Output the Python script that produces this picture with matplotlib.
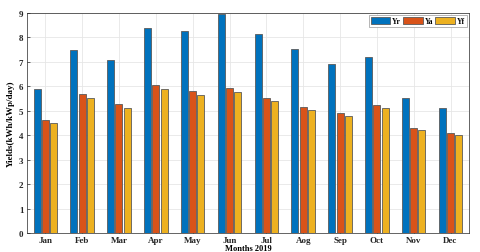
import matplotlib
matplotlib.use("Agg")
import matplotlib.pyplot as plt
import numpy as np

months = ["Jan", "Feb", "Mar", "Apr", "May", "Jun", "Jul", "Aog", "Sep", "Oct", "Nov", "Dec"]
Yr = [5.90, 7.48, 7.09, 8.37, 8.27, 8.97, 8.15, 7.53, 6.93, 7.20, 5.54, 5.12]
Ya = [4.63, 5.67, 5.27, 6.04, 5.80, 5.92, 5.51, 5.16, 4.90, 5.24, 4.30, 4.08]
Yf = [4.51, 5.52, 5.13, 5.90, 5.65, 5.78, 5.38, 5.03, 4.78, 5.11, 4.20, 4.00]
series_names = ["Yr", "Ya", "Yf"]
colors = ["#0072BD", "#D95319", "#EDB120"]

plt.rcParams['font.family'] = ['Liberation Serif', 'DejaVu Serif']

fig = plt.figure(figsize=(4.8, 2.53), dpi=100)
ax = fig.add_axes([0.056, 0.075, 0.921, 0.870])

x = np.arange(1, len(months) + 1)
offsets = [-0.225, 0.0, 0.225]
w = 0.19
for vals, name, c, off in zip([Yr, Ya, Yf], series_names, colors, offsets):
    ax.bar(x + off, vals, width=w, color=c, edgecolor="#5a5a5a", linewidth=0.6,
           label=name, zorder=3)

ax.set_xlim(0.5, 12.5)
ax.set_ylim(0, 9)
ax.set_yticks(range(0, 10))
ax.set_xticks(x)
ax.set_xticklabels(months, fontweight="bold", fontsize=6.5)
for lab in ax.get_yticklabels():
    lab.set_fontweight("bold")
    lab.set_fontsize(6.5)
ax.tick_params(direction="in", length=2.5, width=0.5, colors="#262626", pad=2.5)
ax.grid(True, color="#e6e6e6", linewidth=0.6, zorder=0)
ax.set_axisbelow(True)
for s in ax.spines.values():
    s.set_color("#262626")
    s.set_linewidth(0.5)

ax.set_ylabel("Yields(kWh/kWp/day)", fontweight="bold", fontsize=6.5, labelpad=3)
ax.set_xlabel("Months 2019", fontweight="bold", fontsize=6)
ax.xaxis.set_label_coords(0.5, -0.048)

leg = ax.legend(loc="upper right", ncol=3, fontsize=5.5, handlelength=2.6, handleheight=0.9,
                columnspacing=0.3, handletextpad=0.2, borderpad=0.25, borderaxespad=0.3,
                fancybox=False, edgecolor="#999999", framealpha=1)
for t in leg.get_texts():
    t.set_fontweight("bold")
leg.get_frame().set_linewidth(0.5)

fig.savefig("out.png", dpi=100)
